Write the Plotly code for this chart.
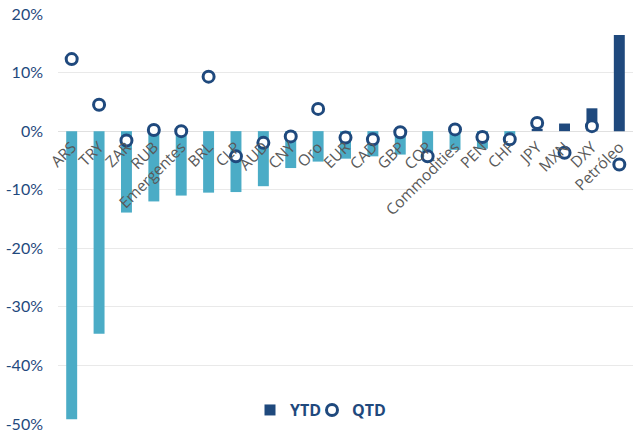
import plotly.graph_objects as go

categories = ["ARS", "TRY", "ZAR", "RUB", "Emergentes", "BRL", "CLP", "AUD", "CNY", "Oro",
              "EUR", "CAD", "GBP", "COP", "Commodities", "PEN", "CHF", "JPY", "MXN", "DXY", "Petróleo"]
ytd = [-49.2, -34.6, -13.9, -12.0, -11.0, -10.5, -10.4, -9.4, -6.3, -5.2,
       -4.7, -4.3, -4.0, -4.2, -3.2, -3.0, -1.8, 0.4, 1.3, 3.9, 16.4]
qtd = [12.3, 4.5, -1.6, 0.2, 0.0, 9.3, -4.3, -2.0, -0.9, 3.8,
       -1.1, -1.4, -0.2, -4.3, 0.3, -1.0, -1.4, 1.4, -3.7, 0.85, -5.7]
y_ticks = [20, 10, 0, -10, -20, -30, -40, -50]
y_tick_text = ["20%", "10%", "0%", "-10%", "-20%", "-30%", "-40%", "-50%"]

NAVY = "#1F497D"
TEAL = "#4BACC6"
bar_colors = [NAVY if v >= 0 else TEAL for v in ytd]

fig = go.Figure()
fig.add_trace(go.Bar(x=categories, y=ytd, marker=dict(color=bar_colors, line=dict(width=0)),
                     width=0.4, showlegend=False, name="YTD"))
fig.add_trace(go.Scatter(x=[None], y=[None], mode="markers", name="YTD", legend="legend",
                         marker=dict(symbol="square", size=11, color=NAVY)))
fig.add_trace(go.Scatter(x=categories, y=qtd, mode="markers", name="QTD", legend="legend2",
                         marker=dict(symbol="circle", size=11, color="white",
                                     line=dict(color=NAVY, width=3))))

ymin, ymax = -50, 20
legfont = dict(family="Open Sans", size=16, color=NAVY, weight="bold")
fig.update_layout(
    width=633, height=433,
    margin=dict(l=58, r=0, t=14, b=7),
    paper_bgcolor="white", plot_bgcolor="white",
    xaxis=dict(anchor="free", position=(0 - ymin) / (ymax - ymin), tickangle=-45,
               showgrid=False, showline=False, ticks="", ticklen=0, ticklabelstandoff=3,
               tickfont=dict(family="Open Sans", size=15.5, color="#595959"),
               range=[-0.5, len(categories) - 0.5]),
    yaxis=dict(range=[ymin, ymax], tickvals=y_ticks, ticktext=y_tick_text,
               showgrid=True, gridcolor="#E9E9E9", gridwidth=1,
               zeroline=True, zerolinecolor="#E0E0E0", zerolinewidth=1,
               ticklabeloverflow="allow",
               tickfont=dict(family="Lato", size=16, color=NAVY), ticklabelstandoff=14),
    legend=dict(x=(250 - 58) / 575, y=0.034, xanchor="left", yanchor="middle",
                font=legfont, bgcolor="rgba(0,0,0,0)", itemwidth=30),
    legend2=dict(x=(312 - 58) / 575, y=0.034, xanchor="left", yanchor="middle",
                 font=legfont, bgcolor="rgba(0,0,0,0)", itemwidth=30),
)
fig.write_html("out.html")
